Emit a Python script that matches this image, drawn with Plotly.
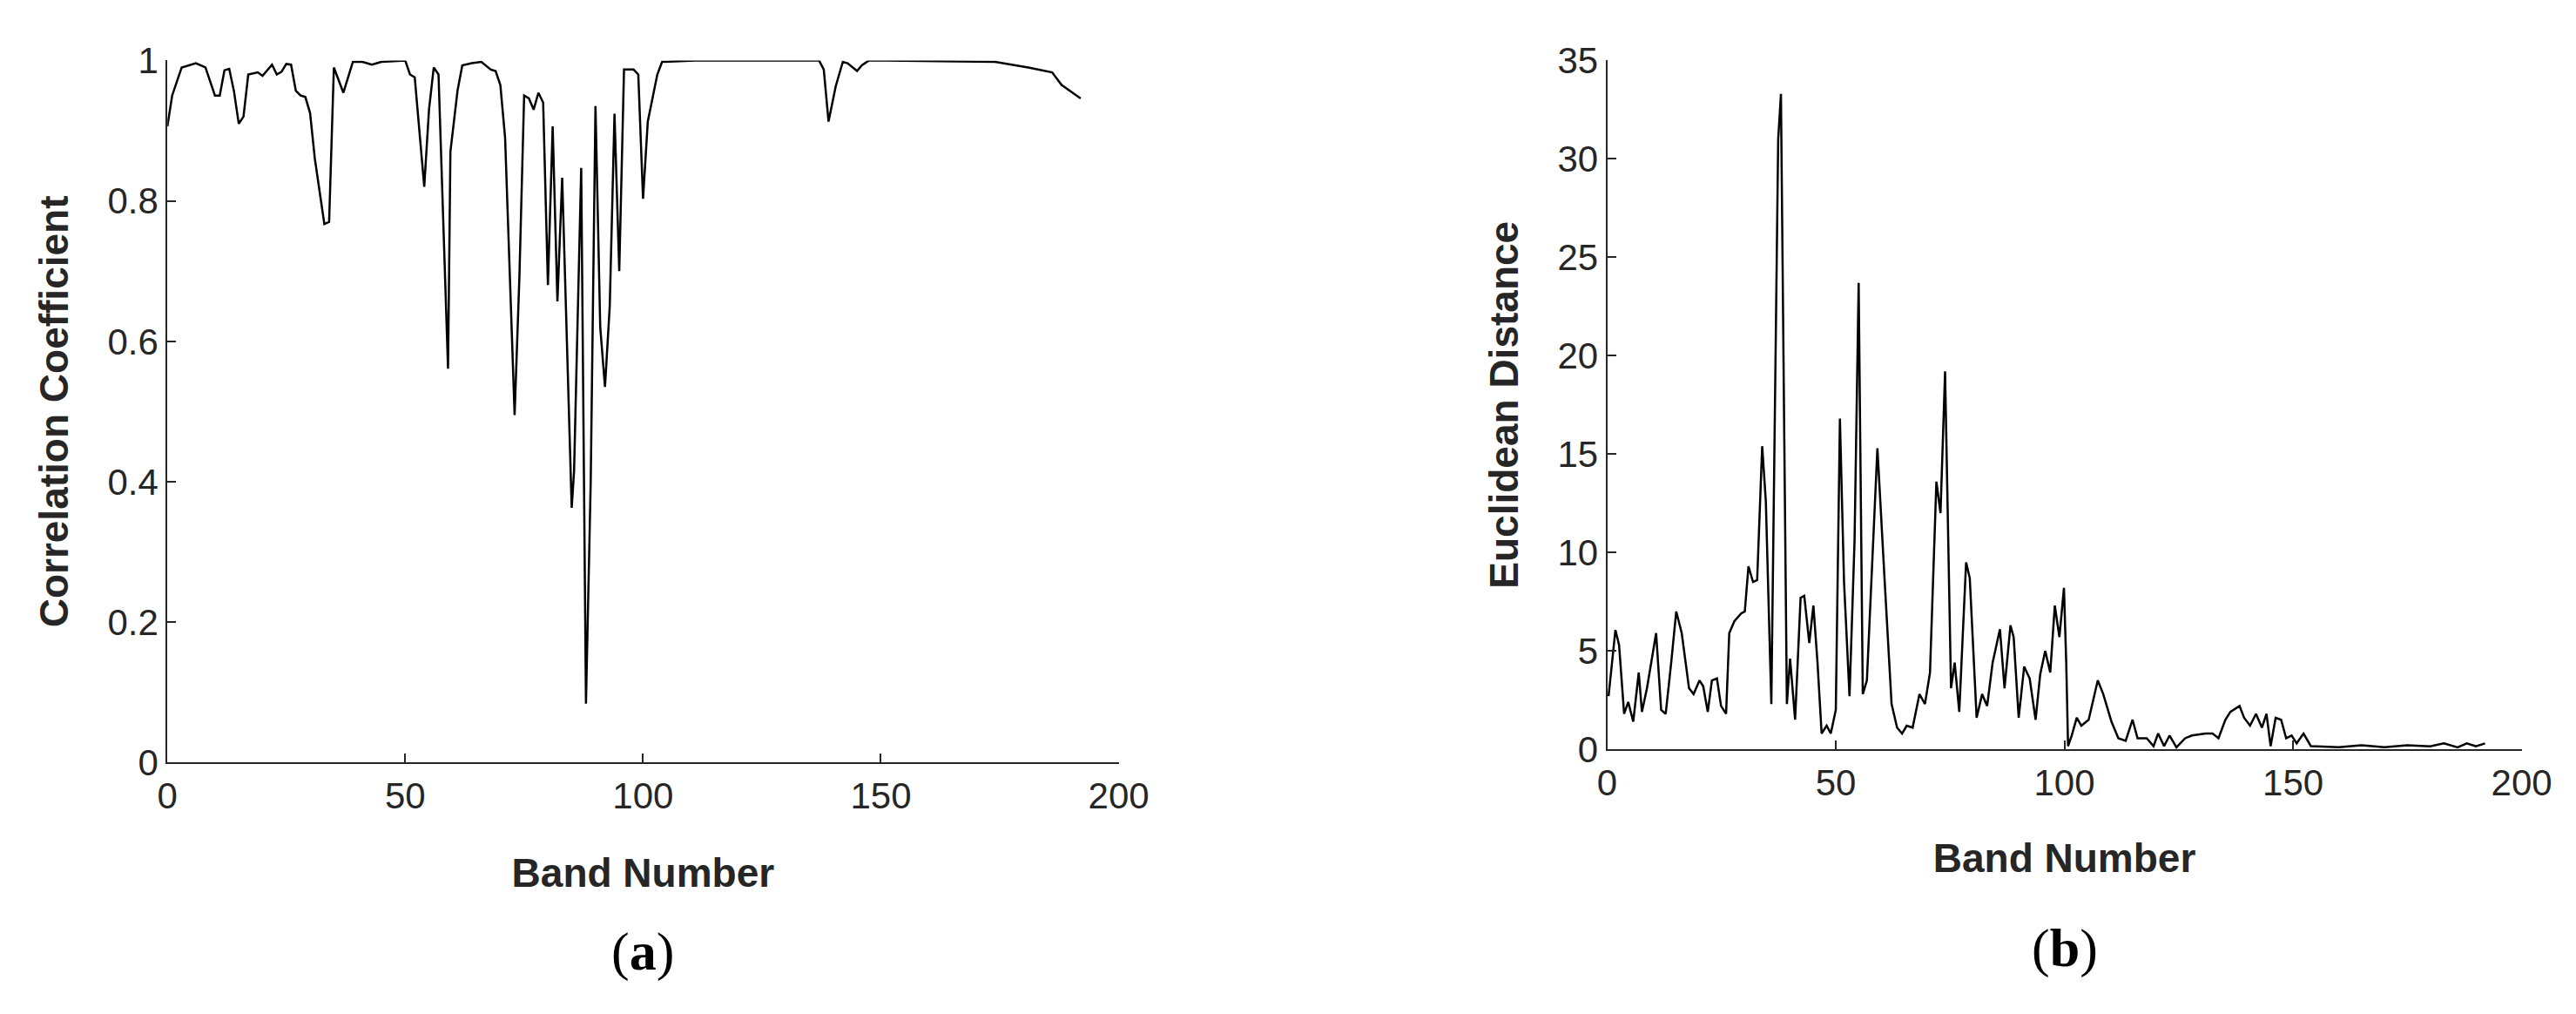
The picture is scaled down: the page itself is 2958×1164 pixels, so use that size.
import plotly.graph_objects as go

band_a = [0,1,3,6,8,10,11,12,13,14,15,16,17,19,20,22,23,24,25,26,27,28,29,30,31,33,34,34.5,35,36,37,38,39,41,43,45,50,51,52,54,55,56,57,59,59.5,61,62,64,66,68,69,70,71,73,74,75,76,77,78,79,80,81,82,83,85,85.5,87,88,89,90,91,92,93,94,95,96,98,99,100,101,103,104,111,137,138,139,140.5,142,143,145,146,147.5,174,181,186,188,192]
corr = [0.906,0.95,0.99,0.996,0.99,0.95,0.95,0.986,0.988,0.956,0.91,0.92,0.98,0.983,0.978,0.994,0.98,0.984,0.995,0.994,0.957,0.95,0.948,0.925,0.86,0.767,0.77,0.877,0.99,0.972,0.954,0.976,0.998,0.998,0.994,0.998,1.0,0.98,0.976,0.82,0.93,0.99,0.98,0.561,0.87,0.957,0.993,0.996,0.998,0.987,0.985,0.965,0.89,0.495,0.69,0.95,0.946,0.93,0.954,0.94,0.68,0.906,0.657,0.833,0.363,0.415,0.847,0.084,0.40,0.935,0.62,0.535,0.65,0.924,0.70,0.987,0.987,0.98,0.803,0.913,0.98,0.998,1.0,1.0,0.987,0.913,0.963,0.998,0.996,0.985,0.993,1.0,0.998,0.99,0.983,0.965,0.946]

band_b = [0.3,1.8,2.6,3.7,4.6,5.7,6.9,7.6,8.7,10.7,11.8,12.8,14,15.1,16.3,17.9,18.9,20.2,21,22,22.9,24,24.9,26,26.7,27.8,29.3,30.1,30.9,31.9,32.8,33.9,34.7,35.9,37.4,38,39.3,40,41.1,42.3,43.1,44.2,45.1,46,46.9,48,48.9,50,50.9,51.8,53,54.1,55,55.9,56.8,59.1,60.7,62.2,63.4,64.5,65.5,66.8,68.3,69.5,70.6,72,72.9,73.9,75.2,76,77,78.5,79.3,80.8,82,83.1,84.3,85.9,86.9,88.2,88.9,90,91.2,92.4,93.7,94.7,95.8,96.9,97.9,98.9,99.9,100.4,100.8,101.6,102.7,103.7,105.3,107.3,108.5,110.3,111.8,113.4,114.9,116,118,119.5,120.5,121.8,123,124.5,126.4,127.9,130.9,132.4,133.7,135.2,136.3,138.3,139.3,140.6,141.9,143.2,144.2,145.1,146.2,147.4,148.5,149.7,150.8,152.3,153.9,158.4,160,165,170,175,180,183,186,188,190,192]
dist = [2.7,6.06,5.3,1.8,2.4,1.4,3.9,1.9,3.1,5.9,2.0,1.8,4.4,7.0,5.9,3.1,2.8,3.5,3.2,1.9,3.5,3.6,2.2,1.8,5.9,6.5,6.9,7.0,9.3,8.5,8.6,15.4,12.6,2.3,31.0,33.3,2.3,4.6,1.5,7.7,7.8,5.4,7.3,4.4,0.8,1.2,0.8,2.0,16.8,8.5,2.7,10.6,23.7,2.8,3.5,15.3,8.5,2.3,1.1,0.8,1.2,1.1,2.8,2.3,3.9,13.6,12.0,19.2,3.1,4.4,1.9,9.5,8.7,1.6,2.8,2.2,4.4,6.1,3.1,6.3,5.7,1.6,4.2,3.6,1.5,3.8,5.0,3.9,7.3,5.7,8.2,4.4,0.16,0.7,1.6,1.2,1.5,3.5,2.8,1.4,0.56,0.43,1.5,0.56,0.56,0.16,0.8,0.16,0.7,0.1,0.56,0.7,0.8,0.8,0.56,1.5,1.9,2.2,1.6,1.2,1.8,1.1,1.8,0.16,1.6,1.5,0.56,0.7,0.3,0.8,0.16,0.1,0.1,0.2,0.1,0.2,0.15,0.3,0.1,0.3,0.15,0.3]

x_ticks = [0, 50, 100, 150, 200]
a_ticks = [0, 0.2, 0.4, 0.6, 0.8, 1]
a_labels = ["0", "0.2", "0.4", "0.6", "0.8", "1"]
b_ticks = [0, 5, 10, 15, 20, 25, 30, 35]

W, H = 2958, 1164
fig = go.Figure()
line = dict(color="black", width=2.5)
fig.add_trace(go.Scatter(x=band_a, y=corr, mode="lines", line=line, xaxis="x", yaxis="y"))
fig.add_trace(go.Scatter(x=band_b, y=dist, mode="lines", line=line, xaxis="x2", yaxis="y2"))

tickfont = dict(family="Liberation Sans, Arial", size=42, color="#262626")
tf = dict(family="Liberation Sans, Arial", size=46, color="#262626")
ax = dict(showline=True, linecolor="#262626", linewidth=2, ticks="inside", ticklen=10,
          tickcolor="#262626", tickwidth=2, showgrid=False, zeroline=False, tickfont=tickfont)
fig.update_layout(
    width=W, height=H, showlegend=False, plot_bgcolor="white", paper_bgcolor="white",
    margin=dict(l=0, r=0, t=0, b=0),
    xaxis=dict(ax, domain=[175/W, 1285/W], range=[0, 200], tickvals=x_ticks, anchor="y",
               title=dict(text="<b>Band Number</b>", font=tf, standoff=50)),
    yaxis=dict(ax, domain=[1-880/H, 1-40/H], range=[0, 1], tickvals=a_ticks, ticktext=a_labels, anchor="x",
               title=dict(text="<b>Correlation Coefficient</b>", font=tf, standoff=30)),
    xaxis2=dict(ax, domain=[1855/W, 2922/W], range=[0, 200], tickvals=x_ticks, anchor="y2",
                title=dict(text="<b>Band Number</b>", font=tf, standoff=48)),
    yaxis2=dict(ax, domain=[1-864/H, 1-40/H], range=[0, 35], tickvals=b_ticks, anchor="x2",
                title=dict(text="<b>Euclidean Distance</b>", font=tf, standoff=30)),
)
sf = dict(family="Liberation Serif, Times New Roman", size=62, color="black")
fig.add_annotation(xref="x domain", yref="y domain", showarrow=False, font=sf, text="(<b>a</b>)", x=0.5, y=-0.315)
fig.add_annotation(xref="x2 domain", yref="y2 domain", showarrow=False, font=sf, text="(<b>b</b>)", x=0.5, y=-0.335)
fig.write_html("out.html")
